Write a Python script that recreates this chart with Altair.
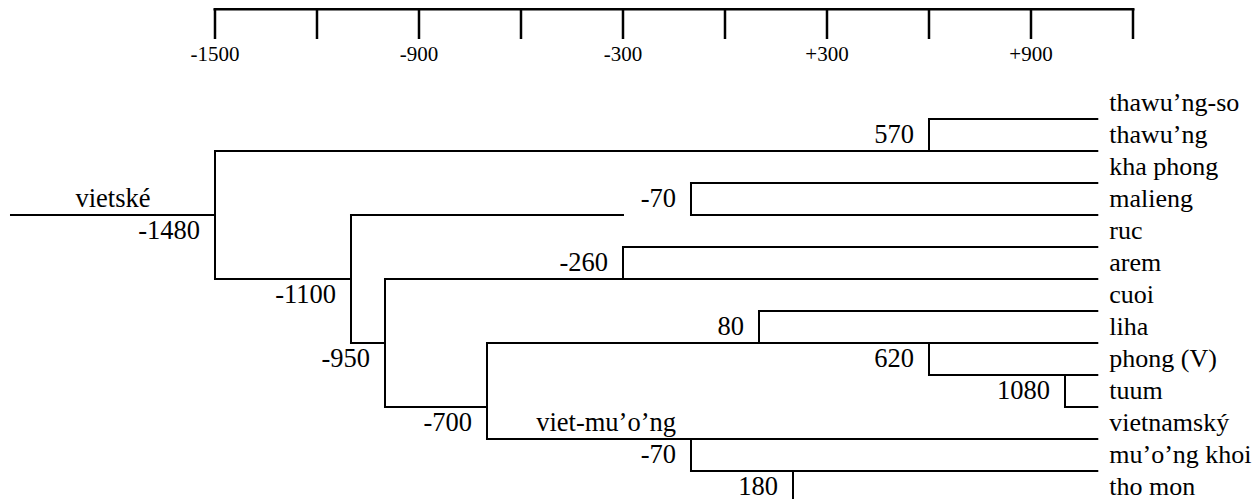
import altair as alt
import pandas as pd

# ---------------- data ----------------
# leaves, top to bottom (row index = position in list)
leaf_names = ["thawu’ng-so", "thawu’ng", "kha phong", "malieng", "ruc", "arem",
              "cuoi", "liha", "phong (V)", "tuum", "vietnamský", "mu’o’ng khoi", "tho mon"]
leaf_rows = list(range(13))
# year at which each leaf branch starts (the node it hangs from, as drawn)
leaf_start = [600, -1500, -100, -100, -300, -1000, 100, -700, 600, 1000, -700, -100, 200]
leaf_end = 1095

# internal nodes: printed label, drawn position (year), vertical span (rows), label row
node_labels = ["-1480", "-1100", "-950", "-700", "-260", "-70", "570", "80", "620", "1080", "-70", "180"]
node_years = [-1500, -1100, -1000, -700, -300, -100, 600, 100, 600, 1000, -100, 200]
node_top = [1, 3, 5, 7, 4, 2, 0, 6, 7, 8, 10, 11]
node_bottom = [5, 7, 9, 10, 5, 3, 1, 7, 8, 9, 11, 12]
node_label_row = [3.5, 5.5, 7.5, 9.5, 4.5, 2.5, 0.5, 6.5, 7.5, 8.5, 10.5, 11.5]

# connectors between internal nodes (row, from year, to year)
conn_rows = [3, 3, 5, 7, 9]
conn_from = [-2100, -1100, -1500, -1100, -1000]
conn_to = [-1500, -300, -1100, -1000, -700]

# group names
group_names = ["vietské", "viet-mu’o’ng"]
group_years = [-1800, -100]
group_rows = [2.5, 9.5]

# time axis
tick_values = [-1500, -1200, -900, -600, -300, 0, 300, 600, 900, 1200]
tick_labels = ["-1500", "", "-900", "", "-300", "", "+300", "", "+900", ""]

# ---------------- layout ----------------
W, H = 1244, 491
FONT = "Times New Roman, Liberation Serif, serif"
FS = 26.5
PX_PER_YEAR = 0.34
X0 = -2108.8
xscale = alt.Scale(domain=[X0, X0 + W / PX_PER_YEAR], nice=False, zero=False)
yscale = alt.Scale(domain=[-111 / 32, 380 / 32], nice=False, zero=False, reverse=True)
AXIS_ROW = -3.44
TICK_END_ROW = -2.5
TICK_LABEL_ROW = -2.0

def X(f):
    return alt.X(f, type="quantitative", scale=xscale, axis=None)

def Y(f):
    return alt.Y(f, type="quantitative", scale=yscale, axis=None)

leaves = pd.DataFrame({"name": leaf_names, "row": leaf_rows, "start": leaf_start,
                       "end": [leaf_end] * len(leaf_names)})
leaves["lrow"] = leaves["row"] - 0.5
nodes = pd.DataFrame({"label": node_labels, "x": node_years, "top": node_top,
                      "bottom": node_bottom, "lrow": node_label_row})
conns = pd.DataFrame({"row": conn_rows, "x1": conn_from, "x2": conn_to})
groups = pd.DataFrame({"name": group_names, "x": group_years, "row": group_rows})
ticks = pd.DataFrame({"v": tick_values, "label": tick_labels})
ticks["r0"] = AXIS_ROW
ticks["r1"] = TICK_END_ROW
ticks["lr"] = TICK_LABEL_ROW
axis_df = pd.DataFrame({"a": [tick_values[0]], "b": [tick_values[-1]], "r": [AXIS_ROW]})

rule = dict(color="black", strokeWidth=2, strokeCap="square")

leaf_lines = alt.Chart(leaves).mark_rule(**rule).encode(x=X("start"), x2="end", y=Y("row"))
conn_lines = alt.Chart(conns).mark_rule(**rule).encode(x=X("x1"), x2="x2", y=Y("row"))
node_lines = alt.Chart(nodes).mark_rule(**rule).encode(x=X("x"), y=Y("top"), y2="bottom")

txt = dict(baseline="middle", font=FONT, fontSize=FS, color="black")
node_text = alt.Chart(nodes).mark_text(align="right", dx=-15, **txt).encode(
    x=X("x"), y=Y("lrow"), text="label")
leaf_text = alt.Chart(leaves).mark_text(align="left", baseline="middle", dx=12, font=FONT,
                                        fontSize=26, color="black").encode(
    x=X("end"), y=Y("lrow"), text="name")
g0 = alt.Chart(groups.iloc[[0]]).mark_text(align="center", **txt).encode(
    x=X("x"), y=Y("row"), text="name")
g1 = alt.Chart(groups.iloc[[1]]).mark_text(align="right", dx=-15, **txt).encode(
    x=X("x"), y=Y("row"), text="name")

axis_line = alt.Chart(axis_df).mark_rule(color="black", strokeWidth=3, strokeCap="square").encode(
    x=X("a"), x2="b", y=Y("r"))
tick_lines = alt.Chart(ticks).mark_rule(color="black", strokeWidth=2.5).encode(
    x=X("v"), y=Y("r0"), y2="r1")
tick_text = alt.Chart(ticks).mark_text(align="center", baseline="middle", font=FONT,
                                       fontSize=21, color="black").encode(
    x=X("v"), y=Y("lr"), text="label")

chart = alt.layer(leaf_lines, conn_lines, node_lines, node_text, leaf_text, g0, g1,
                  axis_line, tick_lines, tick_text).properties(
    width=W, height=H, padding=0, autosize=alt.AutoSizeParams(type="none"),
    background="white"
).configure_view(stroke=None)

chart.save("out.html", embed_options={"renderer": "svg", "actions": False})
